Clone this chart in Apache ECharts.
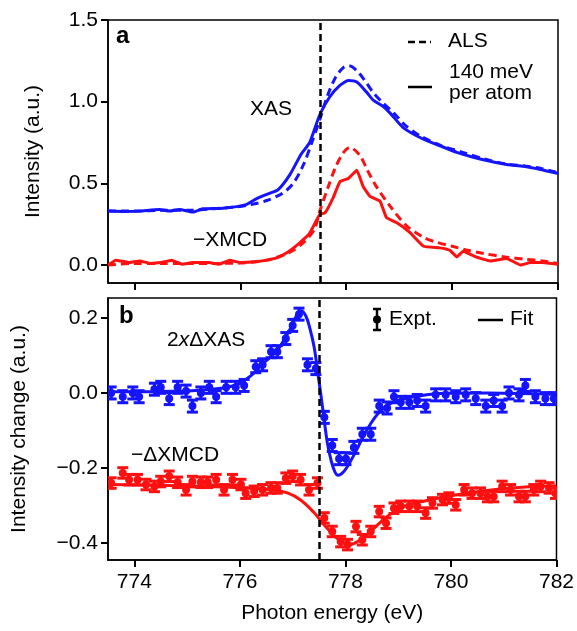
<!DOCTYPE html>
<html><head><meta charset="utf-8">
<script src="https://cdn.jsdelivr.net/npm/echarts@6/dist/echarts.min.js"></script>
<style>html,body{margin:0;padding:0;background:#fff}#c{width:577px;height:631px}</style>
</head><body><div id="c"></div>
<script>
// ---------- Data (panel a: XAS / -XMCD spectra) ----------
const xasALS = [[773.5,0.33],[774,0.33],[774.5,0.335],[775,0.335],[775.5,0.345],[775.9,0.355],[776.2,0.37],[776.5,0.395],[776.8,0.44],[777.0,0.50],[777.2,0.62],[777.35,0.75],[777.5,0.89],[777.65,1.04],[777.8,1.15],[777.95,1.21],[778.05,1.22],[778.2,1.19],[778.35,1.13],[778.5,1.06],[778.7,0.99],[778.9,0.93],[779.1,0.86],[779.4,0.79],[779.8,0.73],[780.2,0.69],[780.6,0.65],[781,0.62],[781.4,0.605],[781.7,0.59],[782,0.565]];
const xas140 = [[773.5,0.33],[773.78,0.328],[774.09,0.33],[774.47,0.34],[774.66,0.33],[774.85,0.34],[775.1,0.324],[775.29,0.344],[775.67,0.348],[776.11,0.37],[776.3,0.405],[776.56,0.44],[776.71,0.46],[776.93,0.55],[777.15,0.68],[777.31,0.75],[777.5,0.92],[777.69,1.03],[777.88,1.10],[778.04,1.13],[778.2,1.12],[778.38,1.06],[778.51,1.01],[778.7,0.97],[778.83,0.93],[779.08,0.84],[779.46,0.77],[779.77,0.73],[780.09,0.69],[780.4,0.66],[780.72,0.635],[781.03,0.615],[781.35,0.605],[781.67,0.585],[782,0.56]];
const xmcdALS = [[773.5,0.0],[774,0.01],[774.5,0.01],[775,0.01],[775.5,0.01],[776,0.012],[776.5,0.03],[776.8,0.06],[777.0,0.09],[777.2,0.14],[777.4,0.22],[777.5,0.33],[777.65,0.47],[777.8,0.6],[777.95,0.69],[778.07,0.72],[778.26,0.67],[778.4,0.58],[778.57,0.48],[778.83,0.36],[779.14,0.24],[779.46,0.17],[779.7,0.14],[780.0,0.115],[780.3,0.09],[780.6,0.07],[781.0,0.05],[781.4,0.035],[781.7,0.025],[782,0.01]];
const xmcd140 = [[773.5,0.0],[773.65,0.03],[773.9,0.015],[774.1,0.025],[774.3,0.01],[774.5,0.015],[774.7,0.03],[774.9,0.005],[775.1,0.015],[775.4,0.015],[775.6,0.005],[775.8,0.03],[776.0,0.015],[776.3,0.02],[776.5,0.03],[776.7,0.045],[776.9,0.08],[777.1,0.13],[777.3,0.19],[777.5,0.31],[777.6,0.32],[777.75,0.41],[777.88,0.51],[778.04,0.53],[778.2,0.58],[778.32,0.48],[778.45,0.42],[778.64,0.39],[778.76,0.29],[778.95,0.26],[779.2,0.20],[779.46,0.115],[779.77,0.105],[779.96,0.09],[780.09,0.05],[780.21,0.085],[780.45,0.05],[780.72,0.025],[781.03,0.04],[781.29,0.0],[781.48,0.015],[781.7,0.015],[782,0.005]];

// ---------- Data (panel b: changes, experiment with error bars + fits) ----------
const dxasE = [773.56,773.78,773.97,774.09,774.38,774.50,774.66,774.82,774.98,775.10,775.26,775.42,775.55,775.74,775.92,776.08,776.30,776.43,776.59,776.71,776.87,777.00,777.12,777.28,777.44,777.60,777.75,777.88,778.01,778.16,778.32,778.48,778.64,778.79,778.92,779.05,779.21,779.36,779.52,779.71,779.90,780.09,780.28,780.47,780.66,780.81,780.97,781.10,781.29,781.41,781.60,781.79,781.95];
const dxasV = [0.0,-0.01,0.0,-0.01,0.01,0.015,-0.015,0.015,0.005,-0.035,0.0,0.015,-0.01,0.015,0.015,0.02,0.07,0.075,0.11,0.11,0.145,0.18,0.21,0.075,0.065,-0.065,-0.14,-0.175,-0.175,-0.145,-0.11,-0.11,-0.035,-0.04,-0.01,-0.025,-0.025,-0.02,-0.035,-0.005,-0.005,-0.01,-0.005,-0.015,-0.035,-0.02,-0.035,0.0,-0.005,0.02,-0.01,-0.015,-0.015];
const dxasErr = 0.016;
const dxmcdE = [773.56,773.78,773.90,774.06,774.22,774.38,774.50,774.66,774.82,774.98,775.10,775.26,775.39,775.55,775.70,775.86,776.02,776.11,776.27,776.43,776.59,776.71,776.87,777.00,777.15,777.31,777.47,777.60,777.75,777.91,778.04,778.20,778.32,778.48,778.64,778.77,778.92,779.05,779.21,779.36,779.52,779.65,779.84,779.96,780.09,780.25,780.40,780.56,780.69,780.81,780.97,781.13,781.29,781.41,781.57,781.70,781.86,781.98];
const dxmcdV = [-0.24,-0.213,-0.231,-0.231,-0.244,-0.249,-0.236,-0.222,-0.238,-0.258,-0.236,-0.238,-0.238,-0.231,-0.258,-0.231,-0.244,-0.267,-0.262,-0.258,-0.253,-0.253,-0.227,-0.222,-0.231,-0.258,-0.24,-0.333,-0.369,-0.396,-0.404,-0.356,-0.391,-0.369,-0.316,-0.347,-0.307,-0.302,-0.302,-0.302,-0.32,-0.293,-0.284,-0.28,-0.298,-0.258,-0.267,-0.267,-0.276,-0.276,-0.249,-0.258,-0.276,-0.276,-0.258,-0.249,-0.253,-0.267];
const dxmcdErr = 0.014;
const fitXAS = [[773.5,0.003],[774.5,0.004],[775.3,0.008],[775.9,0.02],[776.2,0.045],[776.45,0.08],[776.7,0.112],[776.95,0.17],[777.05,0.2],[777.16,0.219],[777.25,0.205],[777.33,0.17],[777.41,0.12],[777.48,0.05],[777.54,-0.01],[777.6,-0.075],[777.66,-0.135],[777.73,-0.18],[777.8,-0.21],[777.86,-0.219],[777.93,-0.215],[778.02,-0.2],[778.2,-0.155],[778.38,-0.105],[778.65,-0.05],[778.95,-0.022],[779.4,-0.008],[779.9,-0.001],[780.7,0.0],[782,-0.004]];
const fitXMCD = [[773.5,-0.244],[774.5,-0.246],[775.5,-0.25],[776.2,-0.254],[776.6,-0.258],[776.9,-0.266],[777.15,-0.285],[777.4,-0.318],[777.6,-0.352],[777.8,-0.382],[777.97,-0.4],[778.08,-0.404],[778.26,-0.393],[778.5,-0.366],[778.8,-0.328],[779.1,-0.303],[779.46,-0.289],[779.77,-0.28],[780.09,-0.272],[780.72,-0.259],[781.35,-0.251],[782,-0.247]];

// ---------- Axis ticks ----------
const xTicks = [774,776,778,780,782];
const yTicksA = [0,0.5,1.0,1.5];
const yTicksB = [-0.4,-0.2,0,0.2];
const vLineE = 777.5;

const BLUE = '#1414ff', RED = '#ff1010';
const FONT = "'Liberation Sans', Arial, Helvetica, sans-serif";
const FS = 21;
const fmt = v => (v < 0 ? '\u2212' : '') + Math.abs(v).toFixed(1);

function errRender(color) {
  return function (params, api) {
    const x = api.value(0), y = api.value(1), e = api.value(2);
    const p = api.coord([x, y]);
    const hi = api.coord([x, y + e]);
    const lo = api.coord([x, y - e]);
    const w = 5.5;
    const st = { stroke: color, lineWidth: 3 };
    return { type: 'group', children: [
      { type: 'line', shape: { x1: p[0], y1: hi[1], x2: p[0], y2: lo[1] }, style: st },
      { type: 'line', shape: { x1: p[0]-w, y1: hi[1], x2: p[0]+w, y2: hi[1] }, style: st },
      { type: 'line', shape: { x1: p[0]-w, y1: lo[1], x2: p[0]+w, y2: lo[1] }, style: st },
      { type: 'circle', shape: { cx: p[0], cy: p[1], r: 4 }, style: { fill: color } }
    ]};
  };
}

function tick(vals) { return { show: true, length: 7, customValues: vals, lineStyle: { color: '#000', width: 2 } }; }
function axl() { return { show: true, onZero: false, lineStyle: { color: '#000', width: 1.5 } }; }
const nameStyle = { color: '#000', fontSize: FS, fontFamily: FONT };
function ylab(vals) { return { show: true, color: '#000', fontSize: FS, fontFamily: FONT, margin: 10, formatter: fmt, customValues: vals }; }

const vline = { silent: true, symbol: 'none', label: { show: false },
  lineStyle: { color: '#000', type: [7, 4], width: 2.5 }, data: [{ xAxis: vLineE }] };

const option = {
  animation: false,
  backgroundColor: '#fff',
  grid: [
    { left: 108, right: 19, top: 20, height: 263, show: true, borderColor: '#000', borderWidth: 1.5 },
    { left: 108, right: 19, top: 298, height: 262, show: true, borderColor: '#000', borderWidth: 1.5 }
  ],
  xAxis: [
    { type: 'value', gridIndex: 0, min: 773.5, max: 782, axisLine: axl(), axisTick: tick(xTicks),
      splitLine: { show: false }, axisLabel: { show: false, customValues: xTicks } },
    { type: 'value', gridIndex: 1, min: 773.5, max: 782, axisLine: axl(), axisTick: tick(xTicks),
      splitLine: { show: false },
      axisLabel: { show: true, color: '#000', fontSize: FS, fontFamily: FONT, margin: 12, customValues: xTicks },
      name: 'Photon energy (eV)', nameLocation: 'middle', nameGap: 43, nameTextStyle: nameStyle }
  ],
  yAxis: [
    { type: 'value', gridIndex: 0, min: -0.11, max: 1.5, axisLine: axl(), axisTick: tick(yTicksA),
      splitLine: { show: false }, axisLabel: ylab(yTicksA),
      name: 'Intensity (a.u.)', nameLocation: 'middle', nameGap: 64, nameTextStyle: nameStyle },
    { type: 'value', gridIndex: 1, min: -0.445, max: 0.253, axisLine: axl(), axisTick: tick(yTicksB),
      splitLine: { show: false }, axisLabel: ylab(yTicksB),
      name: 'Intensity change (a.u.)', nameLocation: 'middle', nameGap: 78, nameTextStyle: nameStyle }
  ],
  series: [
    { type: 'line', xAxisIndex: 0, yAxisIndex: 0, data: xasALS, symbol: 'none', smooth: 0.3,
      lineStyle: { color: BLUE, width: 3, type: [8, 5] }, markLine: vline, z: 3 },
    { type: 'line', xAxisIndex: 0, yAxisIndex: 0, data: xas140, symbol: 'none', smooth: 0.2,
      lineStyle: { color: BLUE, width: 3 } },
    { type: 'line', xAxisIndex: 0, yAxisIndex: 0, data: xmcdALS, symbol: 'none', smooth: 0.3,
      lineStyle: { color: RED, width: 3, type: [8, 5] } },
    { type: 'line', xAxisIndex: 0, yAxisIndex: 0, data: xmcd140, symbol: 'none', smooth: 0.1,
      lineStyle: { color: RED, width: 3 } },
    { type: 'line', xAxisIndex: 1, yAxisIndex: 1, data: fitXAS, symbol: 'none', smooth: 0.4,
      lineStyle: { color: BLUE, width: 3 }, markLine: vline, z: 3 },
    { type: 'line', xAxisIndex: 1, yAxisIndex: 1, data: fitXMCD, symbol: 'none', smooth: 0.4,
      lineStyle: { color: RED, width: 3 } },
    { type: 'custom', xAxisIndex: 1, yAxisIndex: 1, renderItem: errRender(BLUE), clip: true,
      data: dxasE.map((e, i) => [e, dxasV[i], dxasErr]), z: 2 },
    { type: 'custom', xAxisIndex: 1, yAxisIndex: 1, renderItem: errRender(RED), clip: true,
      data: dxmcdE.map((e, i) => [e, dxmcdV[i], dxmcdErr]), z: 2 }
  ],
  graphic: [
    { type: 'text', left: 116, top: 24, style: { text: 'a', fontSize: 24, fontWeight: 'bold', fontFamily: FONT, fill: '#000' } },
    { type: 'text', left: 119, top: 304, style: { text: 'b', fontSize: 24, fontWeight: 'bold', fontFamily: FONT, fill: '#000' } },
    { type: 'text', left: 250, top: 99, style: { text: 'XAS', fontSize: FS, fontFamily: FONT, fill: '#000' } },
    { type: 'text', left: 193, top: 230, style: { text: '\u2212XMCD', fontSize: FS, fontFamily: FONT, fill: '#000' } },
    { type: 'text', left: 167, top: 330, style: { rich: { n: { fontSize: FS, fontFamily: FONT, fill: '#000' }, i: { fontSize: FS, fontFamily: FONT, fontStyle: 'italic', fill: '#000' } }, text: '{n|2}{i|x}{n|\u0394XAS}' } },
    { type: 'text', left: 131, top: 445, style: { text: '\u2212\u0394XMCD', fontSize: FS, fontFamily: FONT, fill: '#000' } },
    { type: 'line', shape: { x1: 408, y1: 42, x2: 431, y2: 42 }, style: { stroke: '#000', lineWidth: 2.5, lineDash: [7, 4] } },
    { type: 'text', left: 448, top: 31, style: { text: 'ALS', fontSize: FS, fontFamily: FONT, fill: '#000' } },
    { type: 'line', shape: { x1: 408, y1: 87, x2: 432, y2: 87 }, style: { stroke: '#000', lineWidth: 2.5 } },
    { type: 'text', left: 449, top: 62, style: { text: '140 meV', fontSize: FS, fontFamily: FONT, fill: '#000' } },
    { type: 'text', left: 449, top: 83, style: { text: 'per atom', fontSize: FS, fontFamily: FONT, fill: '#000' } },
    { type: 'line', shape: { x1: 377, y1: 309, x2: 377, y2: 330 }, style: { stroke: '#000', lineWidth: 2.5 } },
    { type: 'line', shape: { x1: 373, y1: 309, x2: 381, y2: 309 }, style: { stroke: '#000', lineWidth: 2.5 } },
    { type: 'line', shape: { x1: 373, y1: 330, x2: 381, y2: 330 }, style: { stroke: '#000', lineWidth: 2.5 } },
    { type: 'circle', shape: { cx: 377, cy: 319.5, r: 4 }, style: { fill: '#000' } },
    { type: 'text', left: 389, top: 309, style: { text: 'Expt.', fontSize: FS, fontFamily: FONT, fill: '#000' } },
    { type: 'line', shape: { x1: 478, y1: 320, x2: 503, y2: 320 }, style: { stroke: '#000', lineWidth: 2.5 } },
    { type: 'text', left: 510, top: 309, style: { text: 'Fit', fontSize: FS, fontFamily: FONT, fill: '#000' } }
  ]
};
const chart = echarts.init(document.getElementById('c'), null, { renderer: 'canvas' });
chart.setOption(option);
</script></body></html>
